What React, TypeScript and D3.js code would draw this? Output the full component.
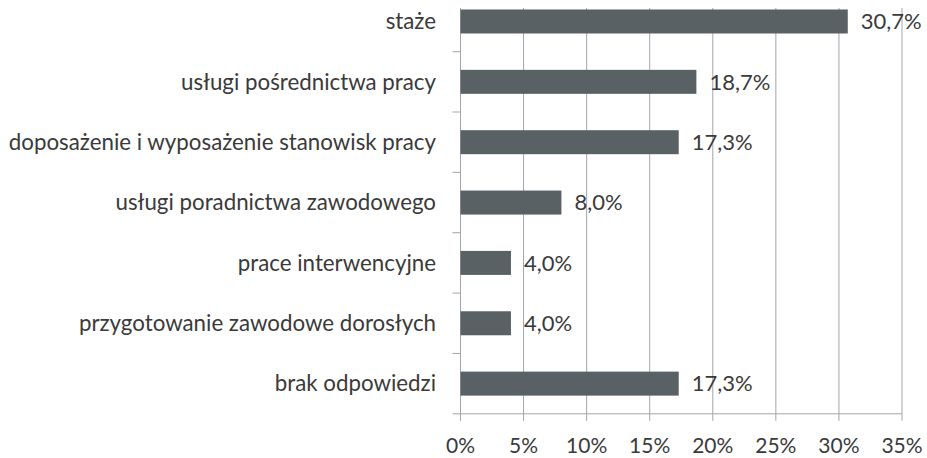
import React from 'react';
import * as d3 from 'd3';

// chart data
const categories = [
  'staże',
  'usługi pośrednictwa pracy',
  'doposażenie i wyposażenie stanowisk pracy',
  'usługi poradnictwa zawodowego',
  'prace interwencyjne',
  'przygotowanie zawodowe dorosłych',
  'brak odpowiedzi',
];
const values = [30.7, 18.7, 17.3, 8.0, 4.0, 4.0, 17.3];
const tickValues = [0, 5, 10, 15, 20, 25, 30, 35];
const valueLabels = ['30,7%', '18,7%', '17,3%', '8,0%', '4,0%', '4,0%', '17,3%'];

const W = 927,
  H = 458;
const plot = { left: 460.5, right: 902, top: -8.7, bottom: 413.8, gridTop: 8 };

const barColor = '#5a6164';
const gridColor = '#a2a6aa';
const textColor = '#3a3a3a';
const font = 'Lato, Carlito, Calibri, sans-serif';

export default function App() {
  const x = d3.scaleLinear().domain([0, 35]).range([plot.left, plot.right]);
  const y = d3
    .scaleBand()
    .domain(categories)
    .range([plot.top, plot.bottom])
    .paddingInner(0)
    .paddingOuter(0);
  const barH = 24;
  const bw = y.bandwidth();

  // boundaries between categories for the small ticks on the left
  const bounds = categories.map((c) => (y(c) as number) + bw).slice(0, -1);

  return (
    <svg
      width={W}
      height={H}
      style={{ position: 'absolute', left: 0, top: 0, background: '#fff' }}
      fontFamily={font}
    >
      {/* vertical gridlines */}
      {tickValues.slice(1).map((t) => (
        <line
          key={'g' + t}
          x1={x(t)}
          x2={x(t)}
          y1={plot.gridTop}
          y2={plot.bottom}
          stroke={gridColor}
          strokeWidth={1}
        />
      ))}
      {/* x axis ticks */}
      {tickValues.map((t) => (
        <line
          key={'t' + t}
          x1={x(t)}
          x2={x(t)}
          y1={plot.bottom}
          y2={plot.bottom + 7}
          stroke={gridColor}
        />
      ))}
      <line x1={plot.left - 8} x2={plot.right} y1={plot.bottom} y2={plot.bottom} stroke={gridColor} />
      {/* y axis line and ticks */}
      <line x1={plot.left} x2={plot.left} y1={plot.gridTop} y2={plot.bottom} stroke={gridColor} />
      {bounds.map((b, i) => (
        <line key={'yb' + i} x1={plot.left - 8} x2={plot.left} y1={b} y2={b} stroke={gridColor} />
      ))}
      {/* bars */}
      {categories.map((c, i) => {
        const cy = (y(c) as number) + bw / 2;
        return (
          <g key={c}>
            <rect
              x={x(0)}
              y={cy - barH / 2}
              width={x(values[i]) - x(0)}
              height={barH}
              fill={barColor}
            />
            <text
              x={x(values[i]) + 13}
              y={cy}
              dy="0.35em"
              fontSize={22}
              fill={textColor}
            >
              {valueLabels[i]}
            </text>
            <text x={436} y={cy} dy="0.35em" textAnchor="end" fontSize={22.3} fill={textColor}>
              {c}
            </text>
          </g>
        );
      })}
      {/* x tick labels */}
      {tickValues.map((t) => (
        <text key={'l' + t} x={x(t)} y={453} textAnchor="middle" fontSize={21} fill={textColor}>
          {t + '%'}
        </text>
      ))}
    </svg>
  );
}
